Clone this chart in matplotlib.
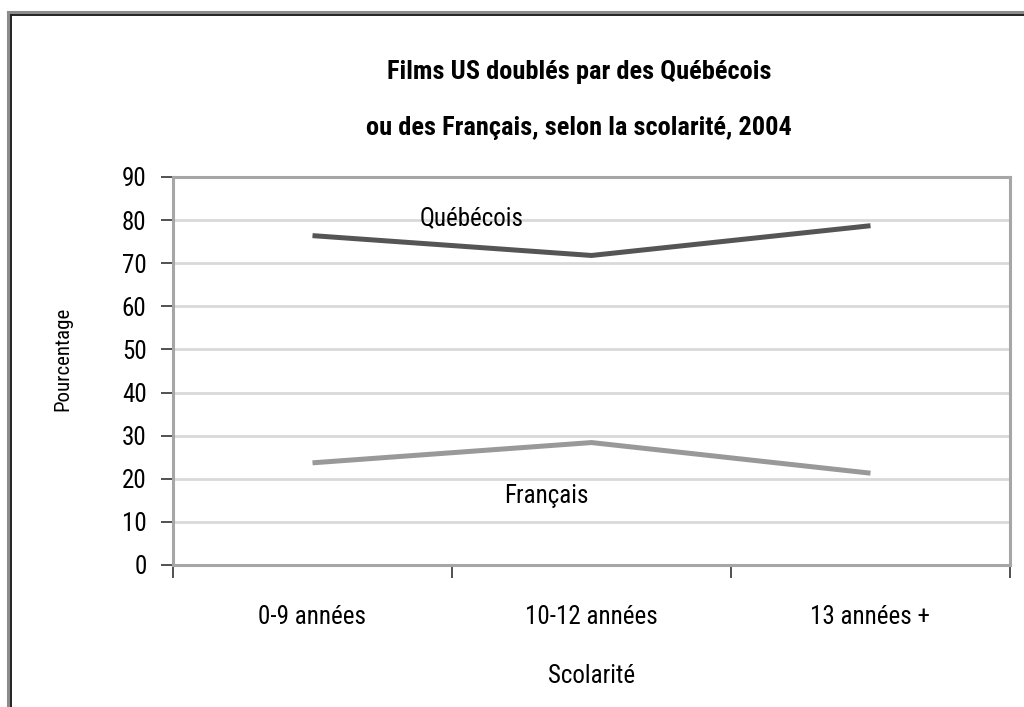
import matplotlib.pyplot as plt
from matplotlib.lines import Line2D
from matplotlib import font_manager

# narrow sans like the original (Arial Narrow look-alike)
available = {f.name for f in font_manager.fontManager.ttflist}
narrow = next((f for f in ['Liberation Sans Narrow', 'Arial Narrow', 'Roboto Condensed',
                           'Archivo Narrow', 'Barlow Semi Condensed'] if f in available),
              'DejaVu Sans')
plt.rcParams['font.family'] = [narrow, 'DejaVu Sans']

# --- Data ---
categories = ["0-9 années", "10-12 années", "13 années +"]
quebecois = [76.4, 71.8, 78.7]
francais = [23.7, 28.4, 21.3]
y_ticks = [0, 10, 20, 30, 40, 50, 60, 70, 80, 90]

title_1 = "Films US doublés par des Québécois"
title_2 = "ou des Français, selon la scolarité, 2004"

W, H = 1024, 707
fig = plt.figure(figsize=(W / 100, H / 100), dpi=100)

# plot area in pixels: x 173..1010, y 177..565
ax = fig.add_axes([173 / W, 1 - 565 / H, (1010 - 173) / W, (565 - 177) / H])

x = range(len(categories))
ax.plot(x, quebecois, color='#555555', lw=3.6, solid_capstyle='butt', zorder=3)
ax.plot(x, francais, color='#999999', lw=3.6, solid_capstyle='butt', zorder=3)

ax.set_xlim(-0.5, len(categories) - 0.5)
ax.set_ylim(0, 90)
ax.set_yticks(y_ticks)
ax.tick_params(axis='y', labelsize=18, length=9, width=1.2, color='#333333', pad=10)
ax.grid(axis='y', color='#d9d9d9', lw=2)
ax.set_axisbelow(True)

# category ticks sit on boundaries, labels centred
ax.set_xticks([i - 0.5 for i in range(len(categories) + 1)])
ax.set_xticklabels([])
ax.set_xticks(list(x), minor=True)
ax.set_xticklabels(categories, minor=True, fontsize=18)
ax.tick_params(axis='x', which='major', length=9, width=1.2, color='#333333',
               direction='out')
ax.tick_params(axis='x', which='minor', length=0, pad=29)

for s in ax.spines.values():
    s.set_color('#a6a6a6')
    s.set_linewidth(2.2)

ax.set_ylabel("Pourcentage", fontsize=15)
ax.yaxis.set_label_coords(-0.12, 0.53)
ax.set_xlabel("Scolarité", fontsize=18, labelpad=25)

ax.text(0.57, 80.5, "Québécois", fontsize=18, ha='center', va='center')
ax.text(0.84, 16.0, "Français", fontsize=18, ha='center', va='center')

fig.text(579 / W, 1 - 72 / H, title_1, fontsize=19, fontweight='bold',
         ha='center', va='center')
fig.text(579 / W, 1 - 128 / H, title_2, fontsize=19, fontweight='bold',
         ha='center', va='center')

# outer frame (top and left edges only visible)
fig.add_artist(Line2D([8 / W, 8 / W], [0, 1 - 12 / H], color='#8c8c8c', lw=2.2,
                      transform=fig.transFigure))
fig.add_artist(Line2D([8 / W, 1], [1 - 12 / H, 1 - 12 / H], color='#8c8c8c', lw=2.2,
                      transform=fig.transFigure))
fig.add_artist(Line2D([10.5 / W, 10.5 / W], [0, 1 - 14.5 / H], color='#222222', lw=1.4,
                      transform=fig.transFigure))
fig.add_artist(Line2D([10.5 / W, 1], [1 - 14.5 / H, 1 - 14.5 / H], color='#222222', lw=1.4,
                      transform=fig.transFigure))

fig.savefig("out.png", dpi=100)
